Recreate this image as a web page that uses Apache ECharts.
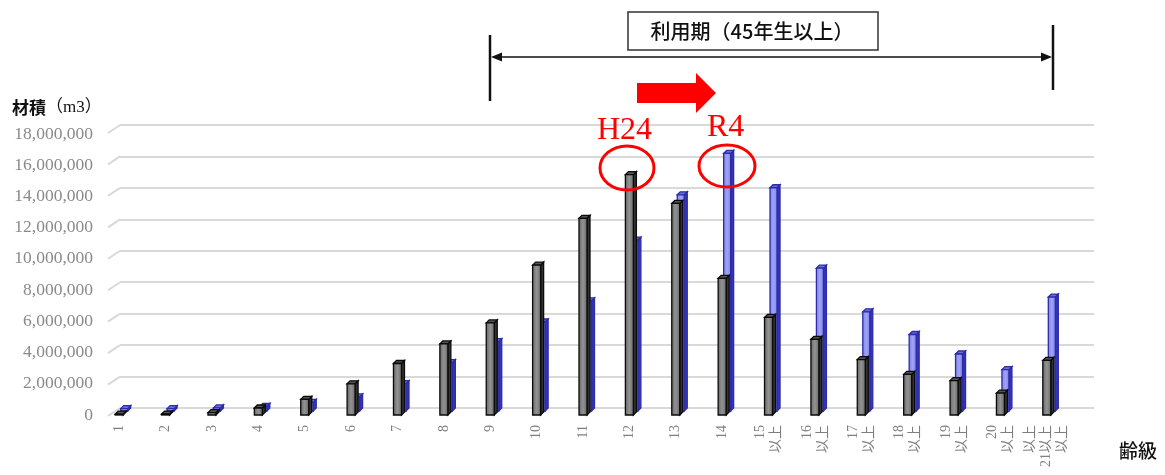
<!DOCTYPE html>
<html>
<head>
<meta charset="utf-8">
<script src="https://cdn.jsdelivr.net/npm/echarts@6/dist/echarts.min.js"></script>
<style>
html,body{margin:0;padding:0;background:#fff;}
#c{width:1165px;height:475px;}
</style>
</head>
<body>
<div id="c"></div>
<script>
// ---- data ----
var categories = ['1','2','3','4','5','6','7','8','9','10','11','12','13','14',
  '15\n以上','16\n以上','17\n以上','18\n以上','19\n以上','20\n以上','以上\n21以上\n以上'];
var seriesH24 = [50000, 60000, 150000, 450000, 1000000, 2000000, 3300000, 4550000, 5900000,
  9600000, 12600000, 15400000, 13550000, 8750000, 6250000, 4850000, 3550000, 2600000, 2200000, 1400000, 3500000];
var seriesR4 = [150000, 150000, 200000, 300000, 550000, 900000, 1750000, 3100000, 4450000,
  5700000, 7050000, 10950000, 13850000, 16500000, 14300000, 9150000, 6350000, 4900000, 3650000, 2650000, 7300000];
var yTicks = [0, 2000000, 4000000, 6000000, 8000000, 10000000, 12000000, 14000000, 16000000, 18000000];
var yMax = 18000000, yInterval = 2000000;

var chart = echarts.init(document.getElementById('c'));

function bar3d(front, side, top, border, offX, offY, w, d) {
  return function (params, api) {
    var idx = api.value(0), v = api.value(1);
    var b = api.coord([idx, 0]);
    var t = api.coord([idx, v]);
    var x = b[0] + offX - w / 2;
    var yb = b[1] + offY, yt = t[1] + offY;
    var st = {stroke: border, lineWidth: 1.3};
    return {
      type: 'group',
      children: [
        {type: 'polygon', shape: {points: [[x + w, yb], [x + w + d, yb - d], [x + w + d, yt - d], [x + w, yt]]},
          style: Object.assign({fill: side}, st)},
        {type: 'polygon', shape: {points: [[x, yt], [x + d, yt - d], [x + w + d, yt - d], [x + w, yt]]},
          style: Object.assign({fill: top}, st)},
        {type: 'rect', shape: {x: x, y: yt, width: w, height: Math.max(yb - yt, 0.5)},
          style: Object.assign({fill: front}, st)}
      ]
    };
  };
}

var greyFront = new echarts.graphic.LinearGradient(0, 0, 1, 0, [
  {offset: 0, color: '#656565'}, {offset: 0.5, color: '#939393'}, {offset: 1, color: '#656565'}]);
var blueFront = new echarts.graphic.LinearGradient(0, 0, 1, 0, [
  {offset: 0, color: '#7d80ea'}, {offset: 0.5, color: '#a0a3f5'}, {offset: 1, color: '#7d80ea'}]);

var option = {
  animation: false,
  backgroundColor: '#ffffff',
  grid: [
    {left: 120, right: 71, top: 125, bottom: 67},   // back wall
    {left: 96, right: 95, top: 134, bottom: 60}     // front plane
  ],
  xAxis: [
    {gridIndex: 0, type: 'value', min: 0, max: 1, show: false},
    {gridIndex: 1, type: 'category', data: categories, boundaryGap: true,
      axisLine: {show: false}, axisTick: {show: false},
      axisLabel: {interval: 0, rotate: 90, margin: 10, color: '#7f7f7f',
        fontFamily: 'Liberation Serif, Noto Sans CJK JP', fontSize: 14, lineHeight: 16, padding: [0, 0, 0, 0],
        rich: {}}}
  ],
  yAxis: [
    {gridIndex: 0, type: 'value', min: 0, max: yMax, interval: yInterval,
      axisLine: {show: false}, axisTick: {show: false}, axisLabel: {show: false},
      splitLine: {show: true, lineStyle: {color: '#d9d9d9', width: 2}}},
    {gridIndex: 1, type: 'value', min: 0, max: yMax, interval: yInterval,
      axisLine: {show: false}, axisTick: {show: false}, splitLine: {show: false},
      axisLabel: {margin: 3, color: '#8a8a8a', fontFamily: 'Liberation Serif', fontSize: 17.5,
        formatter: function (v) { return v.toLocaleString('en-US'); }}}
  ],
  series: [
    {
      type: 'custom', xAxisIndex: 0, yAxisIndex: 0, silent: true,
      data: yTicks.map(function (v) { return [0, v]; }),
      renderItem: function (params, api) {
        var p = api.coord([0, api.value(1)]);
        return {type: 'line', shape: {x1: p[0] - 12, y1: p[1] + 8, x2: p[0], y2: p[1]},
          style: {stroke: '#d9d9d9', lineWidth: 2}};
      }
    },
    {
      name: 'R4', type: 'custom', xAxisIndex: 1, yAxisIndex: 1, z: 3,
      data: seriesR4.map(function (v, i) { return [i, v]; }),
      renderItem: bar3d(blueFront, '#3434b4', '#6a6ce0', '#2c2ca8', 5, -4, 7, 3)
    },
    {
      name: 'H24', type: 'custom', xAxisIndex: 1, yAxisIndex: 1, z: 4,
      data: seriesH24.map(function (v, i) { return [i, v]; }),
      renderItem: bar3d(greyFront, '#333333', '#555555', '#0a0a0a', 0, 0, 8, 3)
    }
  ],
  graphic: [
    // axis names
    {type: 'text', left: 12, top: 99, style: {
      text: '{a|材積}{b|（m3）}',
      rich: {
        a: {fontFamily: 'Noto Sans CJK JP', fontSize: 17, fontWeight: 'bold', fill: '#111'},
        b: {fontFamily: 'Liberation Serif, Noto Sans CJK JP', fontSize: 17, fill: '#111'}
      }}},
    {type: 'text', left: 1119, top: 441, style: {text: '齢級', fontFamily: 'Noto Sans CJK JP',
      fontSize: 19, fontWeight: 500, fill: '#111'}},
    // usage period box
    {type: 'rect', shape: {x: 628, y: 12, width: 250, height: 38},
      style: {fill: '#fff', stroke: '#333', lineWidth: 1.5}},
    {type: 'text', x: 752, y: 31, style: {text: '利用期（45年生以上）', fontFamily: 'Noto Sans CJK JP',
      fontSize: 20, fontWeight: 500, fill: '#111', align: 'center', verticalAlign: 'middle'}},
    // double arrow
    {type: 'line', shape: {x1: 493, y1: 57, x2: 1050, y2: 57}, style: {stroke: '#111', lineWidth: 1.5}},
    {type: 'polygon', shape: {points: [[491, 57], [502, 52.5], [502, 61.5]]}, style: {fill: '#111'}},
    {type: 'polygon', shape: {points: [[1052, 57], [1041, 52.5], [1041, 61.5]]}, style: {fill: '#111'}},
    {type: 'line', shape: {x1: 490, y1: 35, x2: 490, y2: 101}, style: {stroke: '#111', lineWidth: 2.5}},
    {type: 'line', shape: {x1: 1053, y1: 25, x2: 1053, y2: 90}, style: {stroke: '#111', lineWidth: 2.5}},
    // red arrow
    {type: 'polygon', shape: {points: [[637, 83], [696, 83], [696, 73], [716, 93], [696, 113], [696, 103], [637, 103]]},
      style: {fill: '#ff0000'}},
    // H24 / R4 labels
    {type: 'text', x: 597, y: 147, z: 10, style: {text: 'H24', fontFamily: 'Liberation Serif', fontSize: 32,
      fill: '#ff0000', verticalAlign: 'bottom'}},
    {type: 'text', x: 707, y: 144, z: 10, style: {text: 'R4', fontFamily: 'Liberation Serif', fontSize: 32,
      fill: '#ff0000', verticalAlign: 'bottom'}},
    {type: 'ellipse', shape: {cx: 627, cy: 168, rx: 27, ry: 22}, z: 10,
      style: {fill: 'none', stroke: '#ff0000', lineWidth: 3}},
    {type: 'ellipse', shape: {cx: 727, cy: 166, rx: 28, ry: 21}, z: 10,
      style: {fill: 'none', stroke: '#ff0000', lineWidth: 3}}
  ]
};
chart.setOption(option);
</script>
</body>
</html>
